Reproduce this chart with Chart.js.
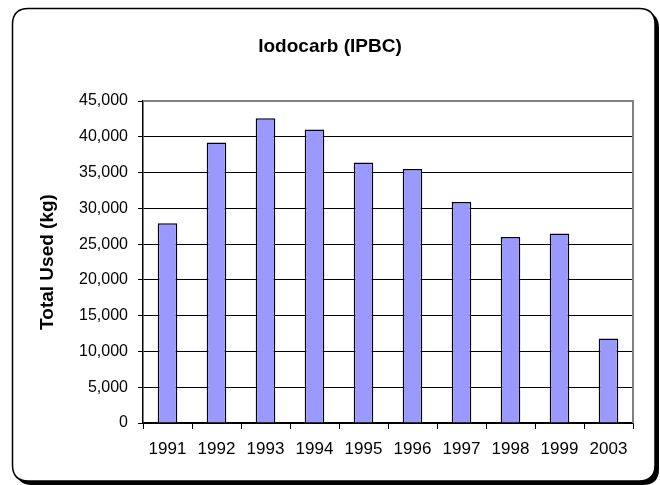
<!DOCTYPE html>
<html>
<head>
<meta charset="utf-8">
<title>Iodocarb (IPBC)</title>
<script src="https://cdn.jsdelivr.net/npm/chart.js@4.4.1/dist/chart.umd.min.js"></script>
<style>
    body { margin: 0; background: #fff; }
    #wrap { width: 660px; height: 485px; }
</style>
</head>
<body>
<div id="wrap"><canvas id="chart" width="660" height="485"></canvas></div>
<script>
// Dados
const years = ['1991', '1992', '1993', '1994', '1995', '1996', '1997', '1998', '1999', '2003'];
const totalUsed = [27900, 39200, 42600, 41000, 36400, 35500, 30900, 26000, 26500, 11800];
const yTicks = [0, 5000, 10000, 15000, 20000, 25000, 30000, 35000, 40000, 45000];

const FONT = "'Liberation Sans', Arial, sans-serif";

// Moldura arredondada com sombra (fundo)
function roundedPath(ctx, x1, y1, x2, y2, r) {
    ctx.beginPath();
    ctx.moveTo(x1 + r, y1);
    ctx.lineTo(x2 - r, y1);
    ctx.quadraticCurveTo(x2, y1, x2, y1 + r);
    ctx.lineTo(x2, y2 - r);
    ctx.quadraticCurveTo(x2, y2, x2 - r, y2);
    ctx.lineTo(x1 + r, y2);
    ctx.quadraticCurveTo(x1, y2, x1, y2 - r);
    ctx.lineTo(x1, y1 + r);
    ctx.quadraticCurveTo(x1, y1, x1 + r, y1);
    ctx.closePath();
}

const framePlugin = {
    id: 'frame',
    beforeDraw(chart) {
        const ctx = chart.ctx;
        ctx.save();
        ctx.fillStyle = '#fff';
        ctx.fillRect(0, 0, chart.width, chart.height);
        roundedPath(ctx, 16, 12, 659, 485, 16);
        ctx.fillStyle = '#000';
        ctx.fill();
        roundedPath(ctx, 12.5, 8.5, 655, 481, 16);
        ctx.fillStyle = '#fff';
        ctx.fill();
        ctx.lineWidth = 1.5;
        ctx.strokeStyle = '#000';
        ctx.stroke();
        ctx.restore();
    },
    beforeDatasetsDraw(chart) {
        // borda cinza superior e direita da área de plotagem
        const { ctx, chartArea } = chart;
        ctx.save();
        ctx.strokeStyle = '#808080';
        ctx.lineWidth = 2;
        ctx.beginPath();
        ctx.moveTo(chartArea.left, chartArea.top);
        ctx.lineTo(chartArea.right, chartArea.top);
        ctx.lineTo(chartArea.right, chartArea.bottom);
        ctx.stroke();
        ctx.restore();
    }
};

const ctx = document.getElementById('chart').getContext('2d');
new Chart(ctx, {
    type: 'bar',
    data: {
        labels: years,
        datasets: [{
            label: 'Total Used (kg)',
            data: totalUsed,
            backgroundColor: '#9999FF',
            borderColor: '#000',
            borderWidth: 1.5,
            categoryPercentage: 1,
            barPercentage: 0.4
        }]
    },
    options: {
        responsive: false,
        animation: false,
        devicePixelRatio: 1,
        layout: { padding: { left: 27, right: 27, top: 0, bottom: 22 } },
        plugins: {
            legend: { display: false },
            tooltip: { enabled: false },
            title: {
                display: true,
                text: 'Iodocarb (IPBC)',
                color: '#000',
                font: { family: FONT, size: 19, weight: 'bold' },
                padding: { top: 35.6, bottom: 42.6 }
            }
        },
        scales: {
            x: {
                grid: {
                    drawOnChartArea: false,
                    drawTicks: true,
                    tickLength: 6,
                    color: '#000',
                    offset: true
                },
                border: { color: '#000', width: 1.5 },
                ticks: {
                    color: '#000',
                    font: { family: FONT, size: 17 },
                    padding: 10,
                    maxRotation: 0
                },
                afterFit(scale) { scale.height = 40; }
            },
            y: {
                min: yTicks[0],
                max: yTicks[yTicks.length - 1],
                grid: {
                    color: '#000',
                    lineWidth: 1,
                    tickLength: 5
                },
                border: { color: '#000', width: 1.5 },
                ticks: {
                    stepSize: yTicks[1] - yTicks[0],
                    color: '#000',
                    font: { family: FONT, size: 16 },
                    padding: 10,
                    callback: v => v.toLocaleString('en-US')
                },
                title: {
                    display: true,
                    text: 'Total Used (kg)',
                    color: '#000',
                    font: { family: FONT, size: 19, weight: 'bold' },
                    padding: { top: 9.6, bottom: 0 }
                },
                afterFit(scale) { scale.width = 116; }
            }
        }
    },
    plugins: [framePlugin]
});
</script>
</body>
</html>
